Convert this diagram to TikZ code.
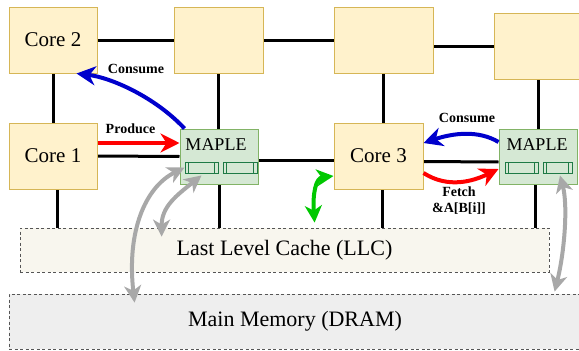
\documentclass[tikz,border=0pt]{standalone}
\usepackage{fontspec}
\setmainfont{Liberation Serif}
\usetikzlibrary{arrows.meta,backgrounds,calc}
\definecolor{coreFill}{HTML}{FFF2CC}
\definecolor{coreDraw}{HTML}{D6B656}
\definecolor{mapleFill}{HTML}{D5E8D4}
\definecolor{mapleDraw}{HTML}{82B366}
\definecolor{inDraw}{HTML}{1E7A45}
\definecolor{llcFill}{HTML}{F8F6EE}
\definecolor{mmFill}{HTML}{EEEEEE}
\definecolor{boxDash}{HTML}{555555}
\definecolor{arrGray}{HTML}{A8A8A8}
\definecolor{arrGreen}{HTML}{00C800}
\definecolor{arrRed}{HTML}{FF0000}
\definecolor{arrBlue}{HTML}{0000CC}
\tikzset{
  corebox/.style={draw=coreDraw, fill=coreFill, line width=1pt, inner sep=0pt,
    font=\rmfamily\fontsize{21}{24}\selectfont},
  maplebox/.style={draw=mapleDraw, fill=mapleFill, line width=1pt, inner sep=0pt,
    minimum width=78pt, minimum height=55pt},
  mapletext/.style={inner sep=0pt, font=\rmfamily\fontsize{18}{20}\selectfont},
  inrect/.style={draw=inDraw, fill=mapleFill, line width=0.9pt, inner sep=0pt,
    minimum height=11pt,
    path picture={
      \draw[inDraw, line width=0.8pt]
        ([xshift=3.5pt]path picture bounding box.north west) -- ([xshift=3.5pt]path picture bounding box.south west)
        ([xshift=-3.5pt]path picture bounding box.north east) -- ([xshift=-3.5pt]path picture bounding box.south east);
    }},
  membox/.style={draw=boxDash, line width=0.8pt, dash pattern=on 3pt off 2.5pt, inner sep=0pt,
    font=\rmfamily\fontsize{22}{24}\selectfont},
  gridline/.style={draw=black, line width=3pt},
  lbl/.style={inner sep=0pt, font=\rmfamily\fontsize{14}{16}\selectfont\bfseries, align=center},
  arr/.style={line width=4pt, -{Stealth[length=19pt 0 0,width=19pt 0 0,inset=6pt 0 0]}},
  dblarr/.style={line width=4pt, {Stealth[length=17pt 0 0,width=17pt 0 0,inset=5pt 0 0]}-{Stealth[length=17pt 0 0,width=17pt 0 0,inset=5pt 0 0]}},
}
\begin{document}
\begin{tikzpicture}[x=1pt,y=-1pt]
\useasboundingbox (0,0) rectangle (579,351);

% memory boxes
\node[membox, fill=llcFill, minimum width=529pt, minimum height=44pt] (llc) at (284.5,250) {Last Level Cache (LLC)};
\node[membox, fill=mmFill, minimum width=572pt, minimum height=55pt] (mm) at (295,321.5) {Main Memory (DRAM)};

% cores / tiles
\node[corebox, minimum width=88pt, minimum height=66pt] (core2) at (53,40) {Core 2};
\node[corebox, minimum width=89pt, minimum height=66pt] (box2) at (218.5,40) {};
\node[corebox, minimum width=99pt, minimum height=66pt] (box3) at (383.5,40) {};
\node[corebox, minimum width=106pt, minimum height=66pt] (box4) at (547,46) {};
\node[corebox, minimum width=88pt, minimum height=66pt] (core1) at (53,156) {Core 1};
\node[corebox, minimum width=89pt, minimum height=66pt] (core3) at (378.5,156) {Core 3};

% MAPLE units
\node[maplebox] (maple1) at (219,156.5) {};
\node[mapletext] (maple1t) at (216,144.5) {MAPLE};
\node[inrect, minimum width=33pt] (m1a) at (201.5,167.5) {};
\node[inrect, minimum width=34pt] (m1b) at (240,167.5) {};
\node[maplebox] (maple2) at (538,156.5) {};
\node[mapletext] (maple2t) at (537,144.5) {MAPLE};
\node[inrect, minimum width=33pt] (m2a) at (521.5,167.5) {};
\node[inrect, minimum width=29pt] (m2b) at (557.5,167.5) {};

% grid
\begin{scope}[on background layer]
\draw[gridline] (core2.east) -- (box2.west);
\draw[gridline] (box2.east) -- (box3.west);
\draw[gridline] (box3.east |- box4.west) -- (box4.west);
\draw[gridline] (core2.south) -- (core1.north);
\draw[gridline] (box2.south) -- (box2.south |- maple1.north);
\draw[gridline] (box3.south) -- (box3.south |- core3.north);
\draw[gridline] (maple2.north) -- (maple2.north |- box4.south);
\draw[gridline] (core1.east) -- (maple1.west);
\draw[gridline] ([yshift=-3.5pt]maple1.east) -- ([yshift=-4pt]core3.west);
\draw[gridline] ([yshift=-5.5pt]core3.east) -- ([yshift=-5.5pt]maple2.west);
\draw[gridline] ([xshift=4pt]core1.south) -- ([xshift=4pt]core1.south |- llc.north);
\draw[gridline] (maple1.south) -- (maple1.south |- llc.north);
\draw[gridline] ([xshift=3.5pt]core3.south) -- ([xshift=3.5pt]core3.south |- llc.north);
\draw[gridline] ([xshift=-3pt]maple2.south) -- ([xshift=-3pt]maple2.south |- llc.north);
\end{scope}

% free arrow ends
\coordinate (gOutB) at ([shift={(126,9)}]mm.north west);
\coordinate (gInB) at ([shift={(142,9)}]llc.north west);
\coordinate (gRB) at ([shift={(546,-2)}]mm.north west);
\coordinate (grB) at ([shift={(295,-5)}]llc.north west);

% labels
\node[lbl] (lprod) at (130.5,128.5) {Produce};
\node[lbl] (lcons1) at (136,69) {Consume};
\node[lbl] (lcons2) at (467,118) {Consume};
\node[lbl] (lfetch) at (459,201) {Fetch\\\&A[B[i]]};

% arrows
\draw[arr, arrRed, line width=4.5pt] ([yshift=13pt]core1.east) -- ([yshift=13.5pt]maple1.west);
\draw[arr, arrBlue] ([xshift=5pt]maple1.north west) .. controls +(-30,-32) and +(34,4) .. ([xshift=-21pt]core2.south east);
\draw[arr, arrBlue] ([yshift=14.5pt]maple2.west) .. controls +(-20,-12) and +(30,-10) .. ([yshift=13pt]core3.east);
\draw[arr, arrRed] ([yshift=-17pt]core3.east) .. controls +(25,16) and +(-25,12) .. ([yshift=-12.5pt]maple2.west);
\draw[dblarr, arrGreen] (grB) .. controls +(-2,-28) and +(-18,2) .. ([yshift=-20pt]core3.west);
\draw[dblarr, arrGray] (gOutB) .. controls +(-8,-70) and +(-40,20) .. (m1a.west);
\draw[dblarr, arrGray] (gInB) .. controls +(0,-30) and +(-25,20) .. ([yshift=-2pt]m1a.south);
\draw[dblarr, arrGray] ([xshift=2.5pt,yshift=-2pt]m2b.south) .. controls +(8,30) and +(10,-40) .. (gRB);
\end{tikzpicture}
\end{document}
